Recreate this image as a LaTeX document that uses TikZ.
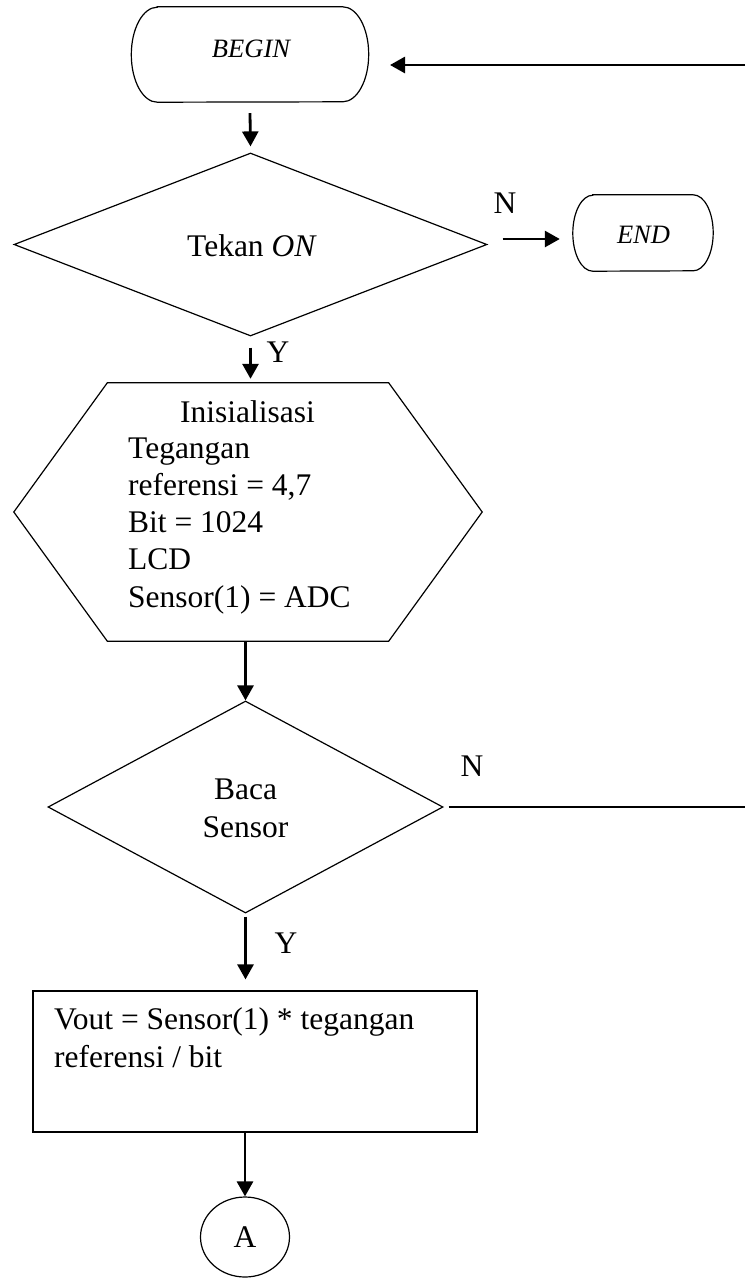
\documentclass[tikz,border=0pt]{standalone}
\usepackage{fontspec}
\setmainfont{Liberation Serif}
\usetikzlibrary{shapes.geometric,arrows.meta,calc}
\begin{document}
\begin{tikzpicture}[x=1pt,y=1pt,
  shapeline/.style={line width=1.2pt},
  arr/.style={line width=2.8pt,-{Triangle[length=15pt,width=16pt]}},
  plainline/.style={line width=2.8pt},
  txt/.style={font=\fontsize{31.5}{37.25}\selectfont, inner sep=0pt},
  ttxt/.style={font=\fontsize{26.5}{30}\selectfont\itshape, inner sep=0pt},
  anchorbox/.style={rectangle, inner sep=0pt}
]
\useasboundingbox (0,0) rectangle (745,-1278);

% BEGIN terminal
\node[anchorbox, minimum width=237pt, minimum height=95pt] (begin) at (250,-54.5) {};
\draw[shapeline] ([xshift=26pt]begin.north west) -- ([xshift=-26pt]begin.north east)
  arc[start angle=90, end angle=-90, x radius=26pt, y radius=47.5pt]
  -- ([xshift=26pt]begin.south west)
  arc[start angle=270, end angle=90, x radius=26pt, y radius=47.5pt] -- cycle;
\node[ttxt, anchor=base] (begintext) at (251,-57) {BEGIN};

% return arrow from the right
\coordinate (retin) at (745,-65);
\coordinate (rettip) at (390,-65);
\draw[arr] (retin) -- (rettip);

% decision 1
\node[diamond, draw, shapeline, inner sep=0pt, minimum width=473pt, minimum height=183pt] (d1) at (250.5,-244.5) {};
\node[txt, anchor=base] (d1text) at (252,-256) {Tekan \textit{ON}};
\draw[arr] ($(begin.south)+(0,-11)$) -- ($(d1.north)+(0,6)$);

% END terminal
\node[anchorbox, minimum width=140pt, minimum height=76pt] (end) at (643,-233) {};
\draw[shapeline] ([xshift=20pt]end.north west) -- ([xshift=-20pt]end.north east)
  arc[start angle=90, end angle=-90, x radius=20pt, y radius=38pt]
  -- ([xshift=20pt]end.south west)
  arc[start angle=270, end angle=90, x radius=20pt, y radius=38pt] -- cycle;
\node[ttxt, anchor=base] (endtext) at (643.5,-243) {END};
\node[txt, anchor=base] (n1) at (505,-213) {N};
\draw[arr, shorten >=13pt] ($(d1.east)+(15,5.5)$) -- ($(end.west)+(0,-6)$);

% Y 1
\node[txt, anchor=base] (y1) at (278,-362) {Y};

% initialisation hexagon
\node[anchorbox, minimum width=468pt, minimum height=258pt] (init) at (248,-512) {};
\draw[shapeline] (init.west) -- ([xshift=93.5pt]init.north west) -- ([xshift=-93.5pt]init.north east)
  -- (init.east) -- ([xshift=-93.5pt]init.south east) -- ([xshift=93.5pt]init.south west) -- cycle;
\node[txt, anchor=base] (inittitle) at (247.5,-422) {Inisialisasi};
\node[txt, anchor=base west, align=left] (initbody) at (128,-607)
  {Tegangan\\referensi = 4,7\\Bit = 1024\\LCD\\Sensor(1) = ADC};
\draw[arr] ($(d1.south)+(0,-11)$) -- ($(d1.south |- init.north)+(0,4)$);

% decision 2
\node[diamond, draw, shapeline, inner sep=0pt, minimum width=395pt, minimum height=212pt] (d2) at (245.5,-807) {};
\node[txt, anchor=base, align=center] (d2text) at (245.5,-837) {Baca\\Sensor};
\draw[arr] (init.south -| d2.north) -- (d2.north);
\node[txt, anchor=base] (n2) at (472,-776) {N};
\coordinate (rout) at (745,-807);
\draw[plainline] ($(d2.east)+(5,0)$) -- (rout);

% process
\node[rectangle, draw, shapeline, minimum width=444pt, minimum height=141pt, inner sep=0pt] (proc) at (255,-1061.5) {};
\node[txt, anchor=base west, align=left] (proctext) at (54,-1067)
  {Vout = Sensor(1) * tegangan\\referensi / bit};
\node[txt, anchor=base] (y2) at (286,-953) {Y};
\draw[arr] ($(d2.south)+(0,-3)$) -- ($(d2.south |- proc.north)+(0,11)$);

% connector A
\node[ellipse, draw, shapeline, minimum width=89pt, minimum height=80pt, inner sep=0pt, font=\fontsize{31.5}{37.25}\selectfont] (conA) at (245,-1237) {\raisebox{-5pt}{A}};
\draw[arr] (proc.south -| conA.north) -- (conA.north);
\end{tikzpicture}
\end{document}
